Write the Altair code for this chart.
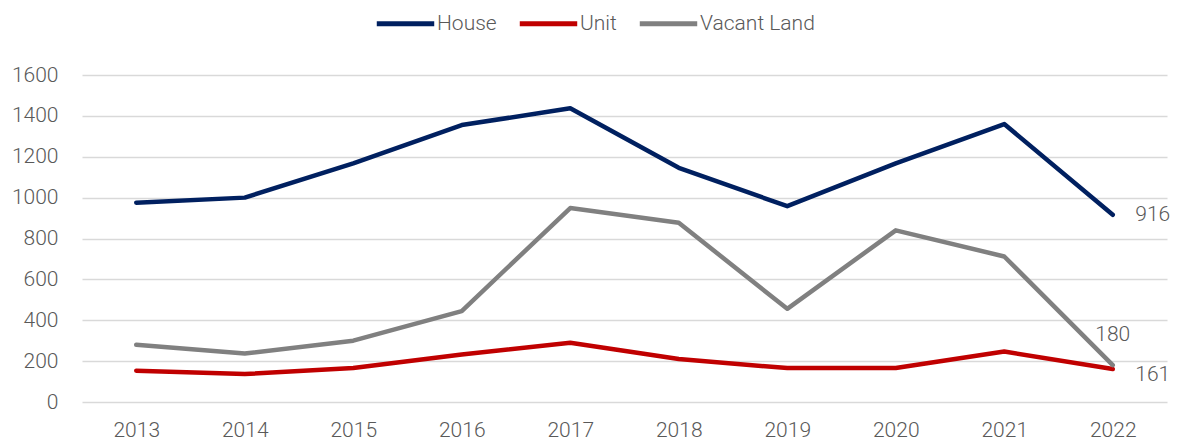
import altair as alt
import pandas as pd

years = ["2013", "2014", "2015", "2016", "2017", "2018", "2019", "2020", "2021", "2022"]
house = [975, 1000, 1168, 1355, 1437, 1146, 958, 1168, 1360, 916]
unit = [153, 137, 166, 232, 290, 210, 166, 166, 247, 161]
vacant = [280, 237, 300, 445, 949, 877, 456, 840, 712, 180]
series = ["House", "Unit", "Vacant Land"]
colors = ["#002060", "#C00000", "#808080"]

rows = []
for name, vals in zip(series, [house, unit, vacant]):
    for y, v in zip(years, vals):
        rows.append({"Year": y, "Value": v, "Series": name})
df = pd.DataFrame(rows)

FONT = "Roboto"
TXT = "#595959"
FS = 21

x = alt.X("Year:N", sort=years, title=None,
          scale=alt.Scale(type="point", padding=0.5),
          axis=alt.Axis(labelAngle=0, ticks=False, domain=False, grid=False,
                        labelPadding=17, labelFontSize=FS, labelColor=TXT,
                        labelFont=FONT, labelFontWeight=300))
y = alt.Y("Value:Q", title=None,
          scale=alt.Scale(domain=[0, 1600], nice=False),
          axis=alt.Axis(values=list(range(0, 1601, 200)), format="d", ticks=False, domain=False,
                        gridColor="#d9d9d9", gridWidth=1.5, labelPadding=24,
                        labelFontSize=FS, labelColor=TXT, labelFont=FONT,
                        labelFontWeight=300))

lines = alt.Chart(df).mark_line(strokeWidth=4.5, strokeCap="round", strokeJoin="round").encode(
    x=x, y=y,
    color=alt.Color("Series:N", sort=series,
                    scale=alt.Scale(domain=series, range=colors),
                    legend=alt.Legend(title=None, orient="none", direction="horizontal",
                                      legendX=292, legendY=-83,
                                      symbolType="stroke", symbolSize=3300,
                                      symbolStrokeWidth=5, labelOffset=0,
                                      columnPadding=12, labelFontSize=FS,
                                      labelColor=TXT, labelFont=FONT,
                                      labelFontWeight=300)),
)

last = df[df["Year"] == "2022"]

def end_label(name, dx, dy):
    return alt.Chart(last[last["Series"] == name]).mark_text(
        dx=dx, dy=dy, fontSize=FS, font=FONT, fontWeight=300, color=TXT
    ).encode(x=alt.X("Year:N", sort=years), y="Value:Q", text="Value:Q")

chart = alt.layer(
    lines,
    end_label("House", 40, 0),
    end_label("Unit", 40, 6),
    end_label("Vacant Land", 0, -30),
).properties(
    width=1085, height=327,
    autosize=alt.AutoSizeParams(type="none"),
    padding={"left": 74, "top": 67, "right": 3, "bottom": 38},
).configure_view(stroke=None)

chart.save("out.html", embed_options={"renderer": "svg", "actions": False})
